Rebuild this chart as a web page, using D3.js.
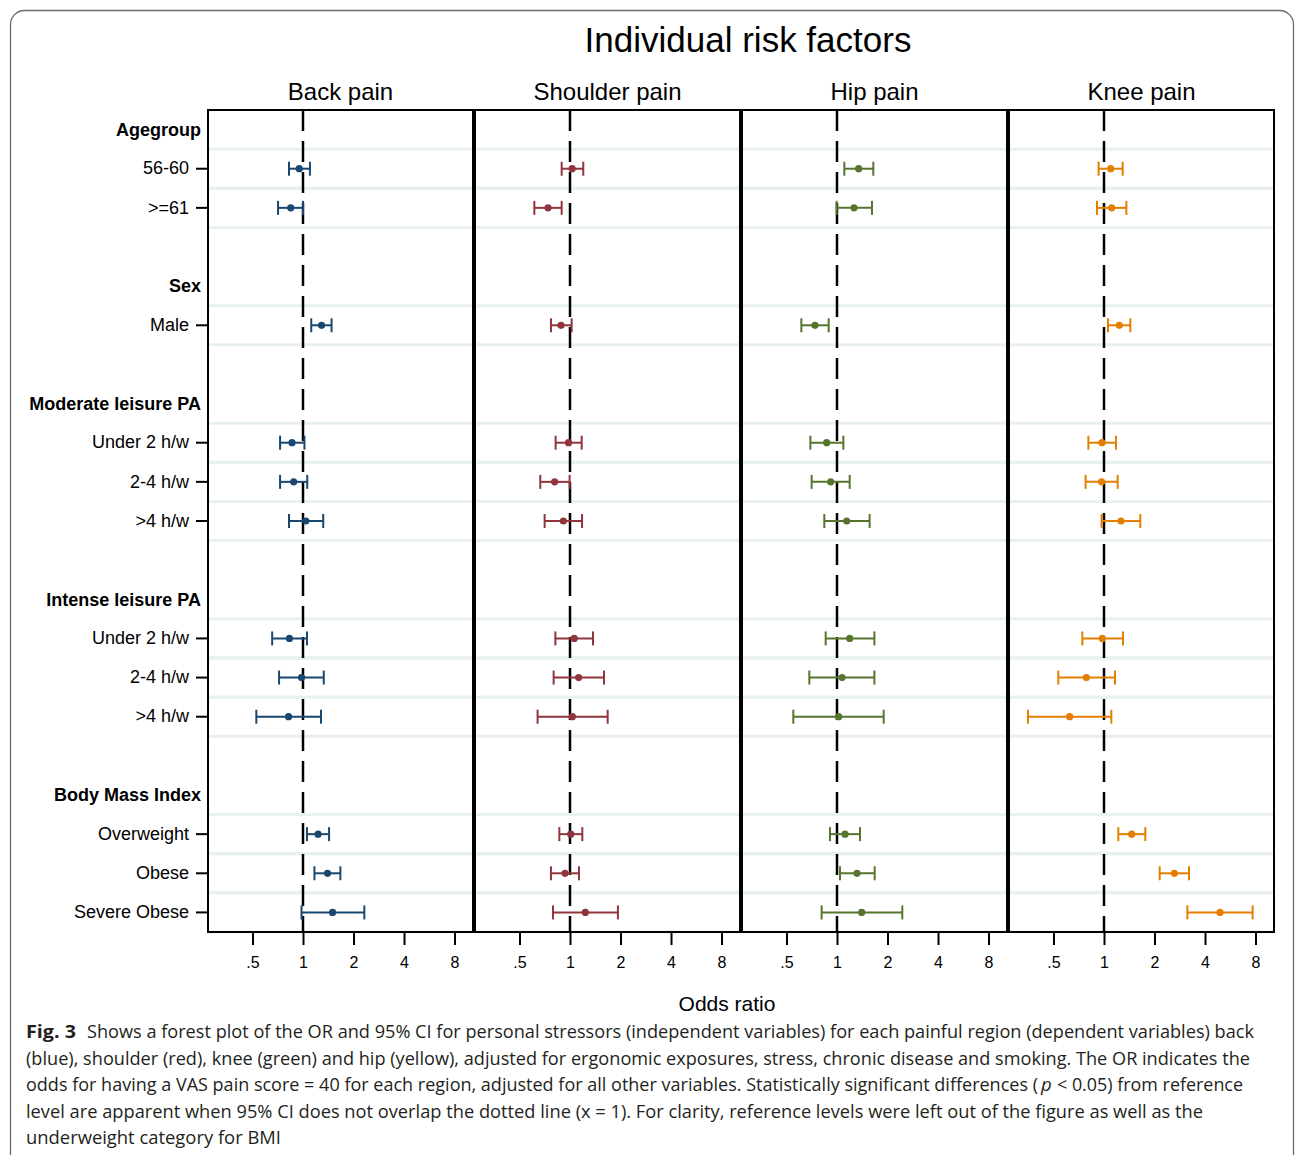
<!DOCTYPE html>
<html>
<head>
<meta charset="utf-8">
<script src="https://cdn.jsdelivr.net/npm/d3@7"></script>
<style>
  body { margin: 0; background: #fff; }
  text { font-family: "Liberation Sans", Arial, sans-serif; }
</style>
</head>
<body>
<script>
// row structure
const groupNames = ["Agegroup", "Sex", "Moderate leisure PA", "Intense leisure PA", "Body Mass Index"];
const groupItems = [
  ["56-60", ">=61"],
  ["Male"],
  ["Under 2 h/w", "2-4 h/w", ">4 h/w"],
  ["Under 2 h/w", "2-4 h/w", ">4 h/w"],
  ["Overweight", "Obese", "Severe Obese"]
];
const regions = ["Back pain", "Shoulder pain", "Hip pain", "Knee pain"];
const tickVals = [0.5, 1, 2, 4, 8];
const tickLabels = [".5", "1", "2", "4", "8"];

// odds ratios and 95% CI, one entry per item row (top to bottom)
const backOR  = [0.95, 0.845, 1.29, 0.86, 0.88, 1.04, 0.83, 0.98, 0.82, 1.23, 1.40, 1.50];
const backLo  = [0.825, 0.71, 1.12, 0.73, 0.73, 0.825, 0.655, 0.72, 0.527, 1.056, 1.17, 0.98];
const backHi  = [1.10, 1.00, 1.48, 1.02, 1.06, 1.32, 1.056, 1.33, 1.28, 1.43, 1.67, 2.32];

const shoulderOR = [1.03, 0.74, 0.884, 0.98, 0.81, 0.913, 1.06, 1.126, 1.033, 1.01, 0.934, 1.234];
const shoulderLo = [0.892, 0.613, 0.77, 0.821, 0.665, 0.706, 0.818, 0.799, 0.641, 0.864, 0.77, 0.792];
const shoulderHi = [1.20, 0.892, 1.023, 1.174, 0.995, 1.18, 1.371, 1.595, 1.677, 1.184, 1.131, 1.93];

const hipOR = [1.346, 1.263, 0.739, 0.868, 0.917, 1.142, 1.19, 1.071, 1.023, 1.116, 1.316, 1.403];
const hipLo = [1.106, 0.995, 0.613, 0.694, 0.706, 0.84, 0.856, 0.684, 0.549, 0.908, 1.042, 0.81];
const hipHi = [1.646, 1.617, 0.892, 1.091, 1.19, 1.565, 1.67, 1.67, 1.898, 1.371, 1.677, 2.45];

const kneeOR = [1.096, 1.111, 1.234, 0.973, 0.968, 1.263, 0.977, 0.785, 0.624, 1.462, 2.626, 4.91];
const kneeLo = [0.929, 0.908, 1.056, 0.807, 0.777, 0.968, 0.743, 0.534, 0.352, 1.217, 2.147, 3.14];
const kneeHi = [1.292, 1.359, 1.435, 1.179, 1.206, 1.646, 1.298, 1.163, 1.106, 1.763, 3.21, 7.69];

// caption pieces: [text, x start, x end (null = natural width), line index, italic]
const captionParts = [
  ["Shows a forest plot of the OR and 95% CI for personal stressors (independent variables) for each painful region (dependent variables) back", 87, 1254, 0, false],
  ["(blue), shoulder (red), knee (green) and hip (yellow), adjusted for ergonomic exposures, stress, chronic disease and smoking. The OR indicates the", 26, 1250, 1, false],
  ["odds for having a VAS pain score = 40 for each region, adjusted for all other variables. Statistically significant differences (", 26, 1038, 2, false],
  ["p", 1041, null, 2, true],
  ["< 0.05) from reference", 1057, 1243, 2, false],
  ["level are apparent when 95% CI does not overlap the dotted line (x = 1). For clarity, reference levels were left out of the figure as well as the", 26, 1203, 3, false],
  ["underweight category for BMI", 26, 281, 4, false]
];

const series = [
  { or: backOR, lo: backLo, hi: backHi },
  { or: shoulderOR, lo: shoulderLo, hi: shoulderHi },
  { or: hipOR, lo: hipLo, hi: hipHi },
  { or: kneeOR, lo: kneeLo, hi: kneeHi }
];

let color = d3.scaleOrdinal().domain(regions).range(["#1a476f", "#90353b", "#55752f", "#e37e00"]);

// build rows
var rows = [];
groupNames.forEach(function (g, i) {
  if (i > 0) rows.push({ id: "blank" + i, type: "blank" });
  rows.push({ id: "h" + i, type: "header", label: g });
  groupItems[i].forEach(function (lab, j) {
    rows.push({ id: "r" + i + "_" + j, type: "item", label: lab });
  });
});
var itemRows = rows.filter(function (r) { return r.type === "item"; });
var labelById = {};
rows.forEach(function (r) { labelById[r.id] = r.label; });

var svgWidth = 1295, svgHeight = 1155;
var plotTop = 110, plotBottom = 932;
var panelW = 265, panelStep = 267, firstLeft = 208;

var svg = d3.select("body").append("svg")
  .attr("width", svgWidth)
  .attr("height", svgHeight);

// outer frame
svg.append("rect")
  .attr("x", 10.5).attr("y", 10.5)
  .attr("width", 1283).attr("height", 1170)
  .attr("rx", 14)
  .attr("fill", "none")
  .attr("stroke", "#6b6b6b")
  .attr("stroke-width", 1.3);

var y = d3.scaleBand().domain(rows.map(function (r) { return r.id; })).range([plotTop, plotBottom]);
var bw = y.bandwidth();

var x = d3.scaleLog().domain([0.2715, 10.31]).range([0, panelW]);

svg.append("text")
  .attr("x", 748).attr("y", 52)
  .attr("text-anchor", "middle")
  .style("font-size", "35px")
  .text("Individual risk factors");

regions.forEach(function (region, i) {
  var g = svg.append("g").attr("transform", "translate(" + (firstLeft + i * panelStep) + ",0)");
  var s = series[i];
  var pts = itemRows.map(function (r, k) {
    return { id: r.id, or: s.or[k], lo: s.lo[k], hi: s.hi[k] };
  });

  g.append("rect")
    .attr("x", 0).attr("y", plotTop)
    .attr("width", panelW).attr("height", plotBottom - plotTop)
    .attr("fill", "#fff");

  // light row separators
  g.selectAll(".sep")
    .data(itemRows)
    .enter()
    .append("g")
    .each(function (r) {
      var gg = d3.select(this);
      [y(r.id), y(r.id) + bw].forEach(function (yy) {
        gg.append("line")
          .attr("x1", 0).attr("x2", panelW)
          .attr("y1", yy).attr("y2", yy)
          .attr("stroke", "#e9f0f2")
          .attr("stroke-width", 3);
      });
    });

  // reference line at OR = 1
  g.append("line")
    .attr("x1", x(1)).attr("x2", x(1))
    .attr("y1", plotTop).attr("y2", plotBottom)
    .attr("stroke", "#000")
    .attr("stroke-width", 2.5)
    .attr("stroke-dasharray", "21,10");

  var c = color(region);
  var bars = g.append("g").selectAll("g").data(pts).enter().append("g");
  bars.append("line")
    .attr("x1", function (d) { return x(d.lo); })
    .attr("x2", function (d) { return x(d.hi); })
    .attr("y1", function (d) { return y(d.id) + bw / 2; })
    .attr("y2", function (d) { return y(d.id) + bw / 2; })
    .attr("stroke", c).attr("stroke-width", 2);
  ["lo", "hi"].forEach(function (k) {
    bars.append("line")
      .attr("x1", function (d) { return x(d[k]); })
      .attr("x2", function (d) { return x(d[k]); })
      .attr("y1", function (d) { return y(d.id) + bw / 2 - 7; })
      .attr("y2", function (d) { return y(d.id) + bw / 2 + 7; })
      .attr("stroke", c).attr("stroke-width", 2);
  });
  bars.append("circle")
    .attr("cx", function (d) { return x(d.or); })
    .attr("cy", function (d) { return y(d.id) + bw / 2; })
    .attr("r", 3.6)
    .attr("fill", c);

  g.append("rect")
    .attr("x", 0).attr("y", plotTop)
    .attr("width", panelW).attr("height", plotBottom - plotTop)
    .attr("fill", "none")
    .attr("stroke", "#000")
    .attr("stroke-width", 2);

  // bottom axis
  var ax = g.append("g")
    .attr("transform", "translate(0," + plotBottom + ")")
    .call(d3.axisBottom(x)
      .tickValues(tickVals)
      .tickFormat(function (d, j) { return tickLabels[j]; })
      .tickSize(13)
      .tickSizeOuter(0)
      .tickPadding(12));
  ax.select(".domain").remove();
  ax.selectAll("line").attr("stroke", "#000").attr("stroke-width", 2);
  ax.selectAll("text").attr("fill", "#000").style("font-size", "16px").style("font-family", "Liberation Sans, Arial, sans-serif");

  g.append("text")
    .attr("x", panelW / 2).attr("y", 100)
    .attr("text-anchor", "middle")
    .style("font-size", "24px")
    .text(region);
});

// left axis with row labels
var yAx = svg.append("g")
  .attr("transform", "translate(" + firstLeft + ",0)")
  .call(d3.axisLeft(y)
    .tickValues(itemRows.map(function (r) { return r.id; }))
    .tickFormat(function (id) { return labelById[id]; })
    .tickSize(12)
    .tickPadding(7));
yAx.select(".domain").remove();
yAx.selectAll("line").attr("stroke", "#000").attr("stroke-width", 2);
yAx.selectAll("text").attr("fill", "#000").style("font-size", "18px").style("font-family", "Liberation Sans, Arial, sans-serif");

svg.append("g").selectAll("text")
  .data(rows.filter(function (r) { return r.type === "header"; }))
  .enter()
  .append("text")
  .attr("x", 201)
  .attr("y", function (r) { return y(r.id) + bw / 2; })
  .attr("dy", "0.35em")
  .attr("text-anchor", "end")
  .style("font-size", "18px")
  .style("font-weight", "bold")
  .text(function (r) { return r.label; });

svg.append("text")
  .attr("x", 727).attr("y", 1011)
  .attr("text-anchor", "middle")
  .style("font-size", "21px")
  .text("Odds ratio");

// caption
var capFont = "'Open Sans', 'DejaVu Sans Condensed', sans-serif";
svg.append("text")
  .attr("x", 26).attr("y", 1038)
  .attr("textLength", 50).attr("lengthAdjust", "spacingAndGlyphs")
  .style("font-family", capFont)
  .style("font-size", "18.5px")
  .style("font-weight", "bold")
  .attr("fill", "#231f20")
  .text("Fig. 3");
svg.append("g").selectAll("text")
  .data(captionParts)
  .enter()
  .append("text")
  .attr("x", function (d) { return d[1]; })
  .attr("y", function (d) { return 1038 + d[3] * 26.6; })
  .each(function (d) {
    if (d[2] !== null) {
      d3.select(this)
        .attr("textLength", d[2] - d[1])
        .attr("lengthAdjust", "spacingAndGlyphs");
    }
  })
  .style("font-family", capFont)
  .style("font-size", "18.5px")
  .style("font-style", function (d) { return d[4] ? "italic" : "normal"; })
  .attr("fill", "#231f20")
  .text(function (d) { return d[0]; });
</script>
</body>
</html>
